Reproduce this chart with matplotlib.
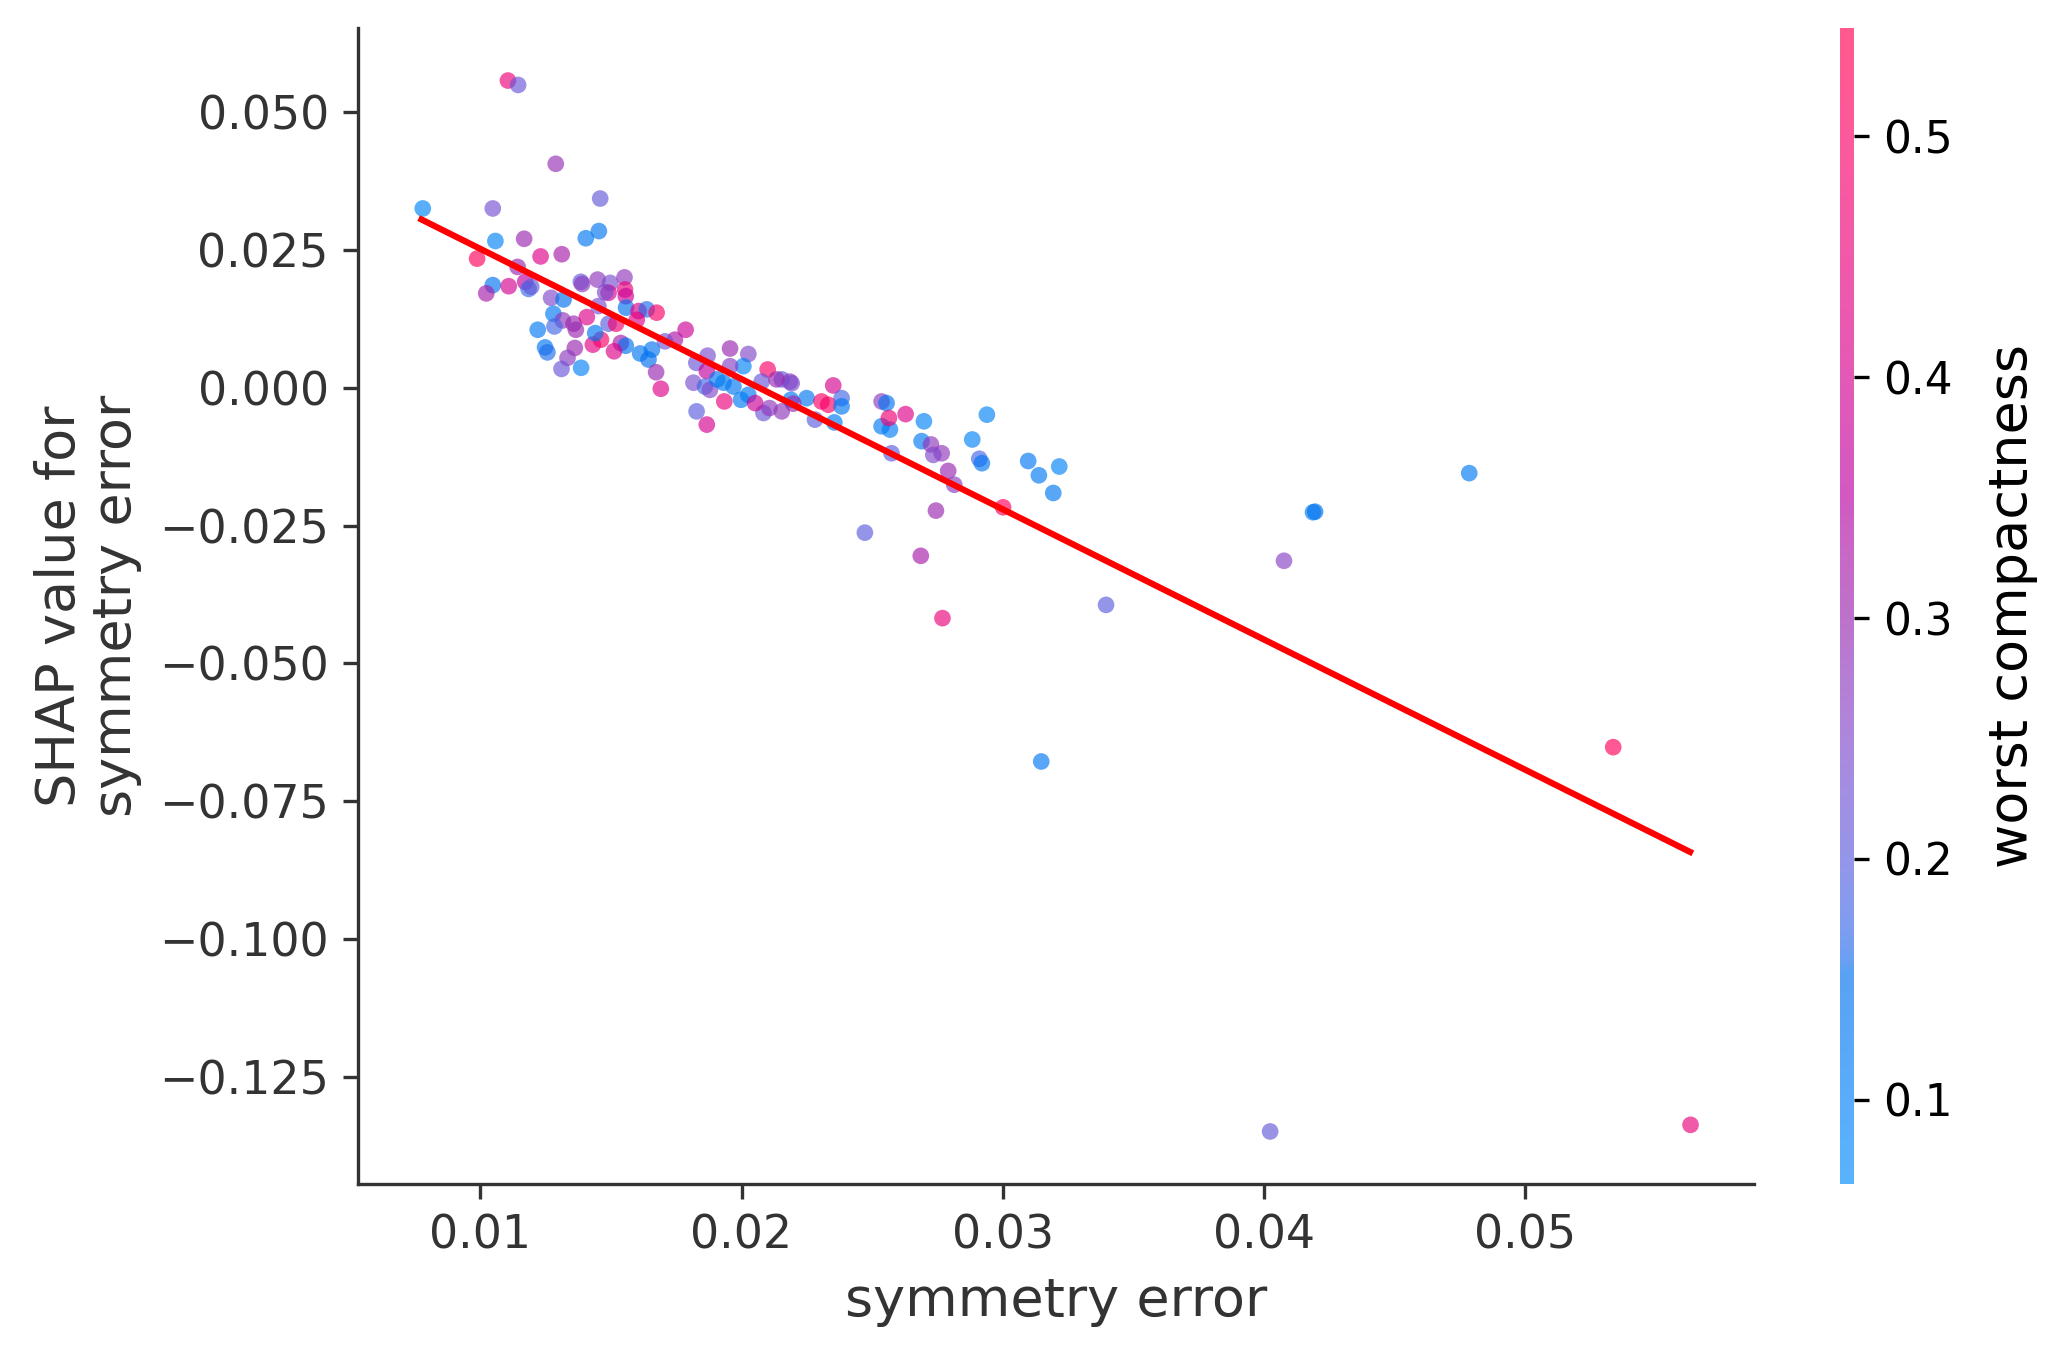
import numpy as np
import matplotlib
matplotlib.use("Agg")
import matplotlib.pyplot as plt
from matplotlib.colors import LinearSegmentedColormap

# ---------------- data ----------------
symmetry_error = [
    0.01106, 0.01145, 0.01289, 0.01459, 0.00780, 0.01048, 0.01454, 0.01404, 0.01058, 0.01168,
    0.00988, 0.01231, 0.01312, 0.01143, 0.01048, 0.01109, 0.01023, 0.01172, 0.01185, 0.01195,
    0.01271, 0.01319, 0.01280, 0.01316, 0.01284, 0.01220, 0.01357, 0.01366, 0.01248, 0.01257,
    0.01362, 0.01334, 0.01311, 0.01386, 0.01408, 0.01431, 0.01462, 0.01440, 0.01385, 0.01390,
    0.01449, 0.01497, 0.01491, 0.01478, 0.01552, 0.01554, 0.01557, 0.01558, 0.01452, 0.01491,
    0.01520, 0.01606, 0.01637, 0.01675, 0.01599, 0.01538, 0.01557, 0.01512, 0.01612, 0.01644,
    0.01673, 0.01691, 0.01786, 0.01745, 0.01707, 0.01870, 0.01956, 0.02026, 0.02100, 0.02007,
    0.01827, 0.01816, 0.01867, 0.01860, 0.01879, 0.01828, 0.01867, 0.01934, 0.01998, 0.02077,
    0.02084, 0.02154, 0.02185, 0.02154, 0.02189, 0.02249, 0.02281, 0.02306, 0.02332, 0.02351,
    0.02383, 0.02383, 0.02355, 0.02536, 0.02555, 0.02536, 0.02568, 0.02564, 0.01907, 0.01931,
    0.01969, 0.02026, 0.02052, 0.02107, 0.02198, 0.01657, 0.01956, 0.02628, 0.02698, 0.02939,
    0.02574, 0.02689, 0.02725, 0.02766, 0.02734, 0.02791, 0.02814, 0.02883, 0.02910, 0.02920,
    0.03001, 0.02744, 0.03097, 0.03138, 0.03216, 0.03193, 0.02472, 0.02686, 0.02769, 0.03395,
    0.03147, 0.04187, 0.04195, 0.04076, 0.04785, 0.05336, 0.04023, 0.05632, 0.02134, 0.02192,
]
shap_value = [
    0.0557, 0.0549, 0.0406, 0.0343, 0.0325, 0.0325, 0.0284, 0.0271, 0.0266, 0.0270,
    0.0234, 0.0238, 0.0242, 0.0219, 0.0186, 0.0184, 0.0171, 0.0192, 0.0179, 0.0183,
    0.0163, 0.0160, 0.0134, 0.0122, 0.0111, 0.0105, 0.0116, 0.0105, 0.0073, 0.0064,
    0.0072, 0.0054, 0.0034, 0.0036, 0.0128, 0.0078, 0.0087, 0.0099, 0.0192, 0.0188,
    0.0196, 0.0190, 0.0172, 0.0173, 0.0200, 0.0178, 0.0166, 0.0145, 0.0148, 0.0116,
    0.0116, 0.0139, 0.0142, 0.0136, 0.0123, 0.0081, 0.0076, 0.0066, 0.0062, 0.0051,
    0.0028, -0.0002, 0.0105, 0.0087, 0.0084, 0.0058, 0.0071, 0.0061, 0.0033, 0.0039,
    0.0045, 0.0009, 0.0030, 0.0002, -0.0004, -0.0043, -0.0067, -0.0025, -0.0022, 0.0011,
    -0.0046, 0.0015, 0.0011, -0.0043, -0.0022, -0.0019, -0.0058, -0.0025, -0.0031, 0.0004,
    -0.0019, -0.0034, -0.0063, -0.0025, -0.0028, -0.0070, -0.0076, -0.0055, 0.0015, 0.0009,
    0.0002, -0.0013, -0.0028, -0.0037, -0.0029, 0.0069, 0.0039, -0.0048, -0.0061, -0.0049,
    -0.0119, -0.0097, -0.0103, -0.0119, -0.0122, -0.0151, -0.0176, -0.0094, -0.0129, -0.0137,
    -0.0217, -0.0223, -0.0133, -0.0159, -0.0143, -0.0191, -0.0263, -0.0305, -0.0418, -0.0394,
    -0.0678, -0.0226, -0.0225, -0.0314, -0.0155, -0.0652, -0.1349, -0.1337, 0.0015, 0.0008,
]
worst_compactness = [
    0.46, 0.22, 0.29, 0.21, 0.09, 0.23, 0.14, 0.13, 0.10, 0.30,
    0.52, 0.42, 0.32, 0.30, 0.14, 0.40, 0.32, 0.36, 0.17, 0.21,
    0.25, 0.15, 0.12, 0.28, 0.18, 0.12, 0.30, 0.30, 0.13, 0.16,
    0.30, 0.27, 0.22, 0.10, 0.42, 0.43, 0.50, 0.13, 0.21, 0.27,
    0.28, 0.24, 0.40, 0.24, 0.28, 0.45, 0.38, 0.15, 0.24, 0.20,
    0.48, 0.42, 0.16, 0.50, 0.42, 0.32, 0.14, 0.42, 0.13, 0.15,
    0.30, 0.42, 0.38, 0.33, 0.23, 0.24, 0.30, 0.25, 0.50, 0.10,
    0.22, 0.24, 0.36, 0.18, 0.25, 0.20, 0.40, 0.45, 0.12, 0.22,
    0.22, 0.20, 0.28, 0.28, 0.13, 0.13, 0.20, 0.50, 0.50, 0.40,
    0.18, 0.13, 0.12, 0.27, 0.14, 0.12, 0.11, 0.47, 0.13, 0.12,
    0.13, 0.12, 0.38, 0.28, 0.30, 0.14, 0.26, 0.42, 0.10, 0.10,
    0.20, 0.12, 0.28, 0.28, 0.25, 0.30, 0.27, 0.10, 0.18, 0.13,
    0.52, 0.30, 0.13, 0.12, 0.10, 0.13, 0.20, 0.32, 0.45, 0.20,
    0.13, 0.10, 0.15, 0.26, 0.12, 0.52, 0.21, 0.45, 0.30, 0.24,
]
trend_x = [0.00775, 0.05630]
trend_y = [0.0305, -0.0842]
color_range = (0.065, 0.545)
colorbar_ticks = [0.1, 0.2, 0.3, 0.4, 0.5]

feature_name = "symmetry error"
color_feature = "worst compactness"


# ---------------- SHAP-like red_blue colormap (LCH interpolation) ----------------
def lch2rgb(l, c, h):
    a = c * np.cos(h)
    b = c * np.sin(h)
    fy = (l + 16.0) / 116.0
    fx = fy + a / 500.0
    fz = fy - b / 200.0

    def finv(t):
        return np.where(t > 0.2068966, t ** 3, (t - 16.0 / 116.0) / 7.787)

    xyz = np.array([0.95047 * finv(fx), 1.0 * finv(fy), 1.08883 * finv(fz)])
    M = np.array([[3.2404542, -1.5371385, -0.4985314],
                  [-0.9692660, 1.8760108, 0.0415560],
                  [0.0556434, -0.2040259, 1.0572252]])
    rgb = M @ xyz
    rgb = np.where(rgb > 0.0031308,
                   1.055 * np.clip(rgb, 1e-9, None) ** (1 / 2.4) - 0.055,
                   12.92 * rgb)
    return np.clip(rgb, 0, 1)


blue_lch = [54., 70., 4.6588]
l_mid = 40.
red_lch = [54., 90., 0.35470565 + 2 * np.pi]
nsteps = 100
l_vals = list(np.linspace(blue_lch[0], l_mid, nsteps // 2)) + list(np.linspace(l_mid, red_lch[0], nsteps // 2))
c_vals = np.linspace(blue_lch[1], red_lch[1], nsteps)
h_vals = np.linspace(blue_lch[2], red_lch[2], nsteps)
cm_colors = [lch2rgb(l, c, h) for l, c, h in zip(l_vals, c_vals, h_vals)]
red_blue = LinearSegmentedColormap.from_list("red_blue", cm_colors)

# ---------------- figure ----------------
W, H, DPI = 2055, 1357, 300
fig = plt.figure(figsize=(W / DPI, H / DPI), dpi=DPI)
ax = fig.add_axes([358 / W, 1 - 1184 / H, (1754 - 358) / W, (1184 - 28) / H])
cax = fig.add_axes([1840 / W, 1 - 1184 / H, 14 / W, (1184 - 28) / H])

axis_color = "#333333"
sc = ax.scatter(symmetry_error, shap_value, c=worst_compactness, s=16, linewidth=0,
                cmap=red_blue, vmin=color_range[0], vmax=color_range[1], alpha=0.65, zorder=2)
ax.plot(trend_x, trend_y, color="red", lw=1.5, zorder=3)

ax.set_xticks([0.01, 0.02, 0.03, 0.04, 0.05])
ax.set_yticks([0.05, 0.025, 0.0, -0.025, -0.05, -0.075, -0.1, -0.125])
ax.xaxis.set_major_formatter(matplotlib.ticker.FormatStrFormatter("%.2f"))
ax.yaxis.set_major_formatter(matplotlib.ticker.FuncFormatter(
    lambda v, p: ("\u2212" if v < -1e-12 else "") + "%.3f" % abs(v)))

ax.spines["top"].set_visible(False)
ax.spines["right"].set_visible(False)
for sp in ("left", "bottom"):
    ax.spines[sp].set_color(axis_color)
ax.tick_params(colors=axis_color, labelsize=11, length=3.5)
ax.set_xlabel(feature_name, color=axis_color, fontsize=13, labelpad=4)
ax.set_ylabel("SHAP value for\n" + feature_name, color=axis_color, fontsize=13, labelpad=4,
              linespacing=1.1)

cb = fig.colorbar(sc, cax=cax, ticks=colorbar_ticks)
cb.outline.set_visible(False)
cb.ax.tick_params(labelsize=10.5, length=3.5)
cb.set_label(color_feature, size=13, labelpad=8)

fig.savefig("out.png", dpi=DPI)
